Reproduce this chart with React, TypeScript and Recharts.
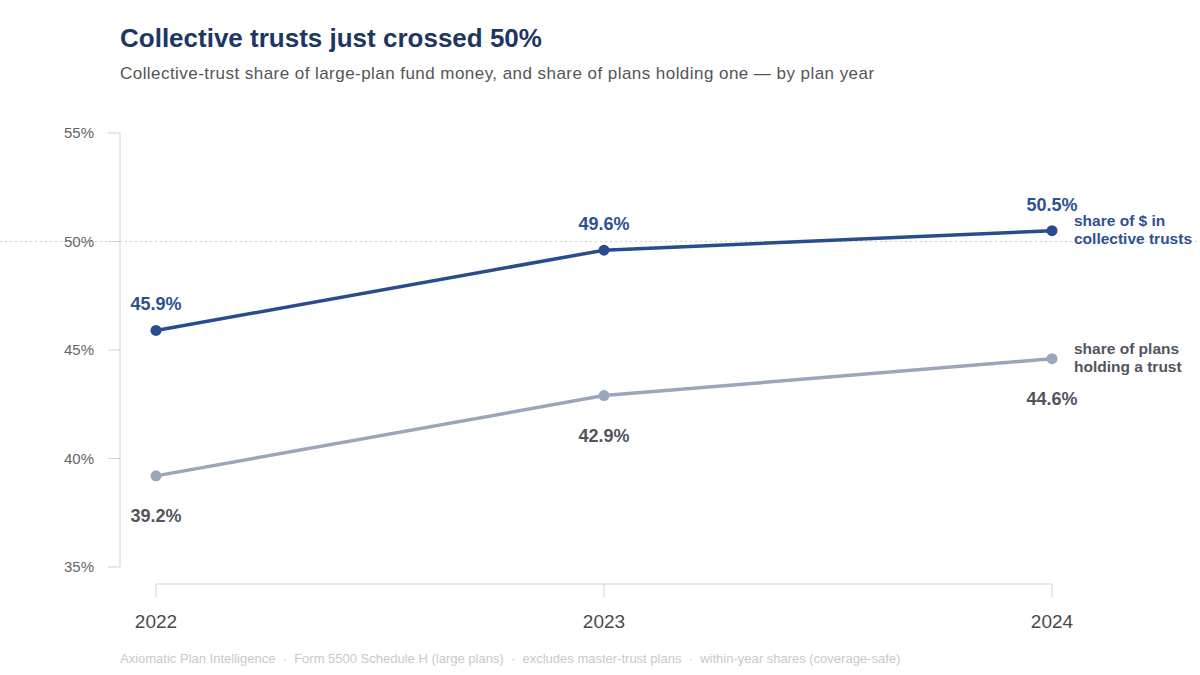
import React from 'react';
import { LineChart, Line, XAxis, YAxis, ReferenceLine, LabelList } from 'recharts';

// Plan years and the two shares (percent)
const YEARS = ['2022', '2023', '2024'];
const DOLLAR_SHARE = [45.9, 49.6, 50.5];
const PLAN_SHARE = [39.2, 42.9, 44.6];
const Y_TICKS = [35, 40, 45, 50, 55];
const Y_DOMAIN: [number, number] = [35, 55];
const DOLLAR_LABEL = ['share of $ in', 'collective trusts'];
const PLAN_LABEL = ['share of plans', 'holding a trust'];

const TITLE = 'Collective trusts just crossed 50%';
const SUBTITLE =
  'Collective-trust share of large-plan fund money, and share of plans holding one \u2014 by plan year';
const FOOTER =
  'Axiomatic Plan Intelligence  \u00b7  Form 5500 Schedule H (large plans)  \u00b7  excludes master-trust plans  \u00b7  within-year shares (coverage-safe)';

const data = YEARS.map((year, i) => ({
  year,
  dollars: DOLLAR_SHARE[i],
  plans: PLAN_SHARE[i],
}));

const W = 1200;
const H = 675;
const PAD_X = 36;
const PAD_BOTTOM = 17;
const FONT = '"Liberation Sans", Arial, Helvetica, sans-serif';

const BLUE = '#2b4c8c';
const BLUE_TEXT = '#2e5194';
const GRAY = '#9ba6bb';
const GRAY_TEXT = '#52555f';
const AXIS = '#d2d2d2';

const makeLabel =
  (color: string, above: boolean, endLines: string[]) =>
  (props: any) => {
    const { x, y, value, index } = props;
    const last = index === YEARS.length - 1;
    return (
      <g>
        <text
          x={x}
          y={above ? y - 20 : y + 46}
          textAnchor="middle"
          fill={color}
          fontFamily={FONT}
          fontWeight="bold"
          fontSize={18}
        >
          {`${Number(value).toFixed(1)}%`}
        </text>
        {last && (
          <text x={x + 22} y={y - 5} fill={color} fontFamily={FONT} fontWeight="bold" fontSize={15.5}>
            <tspan x={x + 22} dy={0}>{endLines[0]}</tspan>
            <tspan x={x + 22} dy={18}>{endLines[1]}</tspan>
          </text>
        )}
      </g>
    );
  };

export default function App() {
  return (
    <div style={{ position: 'absolute', left: 0, top: 0, width: W, height: H, background: '#fff' }}>
      <LineChart
        width={W}
        height={H}
        data={data}
        margin={{ top: 133, right: 112, bottom: 51, left: 60 }}
        style={{ position: 'absolute', left: 0, top: 0 }}
      >
        <XAxis
          dataKey="year"
          padding={{ left: PAD_X, right: PAD_X }}
          axisLine={false}
          tickLine={{ stroke: AXIS }}
          tickSize={13}
          tickMargin={18}
          height={40}
          tick={{ fill: '#4a4a4a', fontSize: 19, fontFamily: FONT }}
        />
        <YAxis
          type="number"
          domain={Y_DOMAIN}
          ticks={Y_TICKS}
          padding={{ top: 0, bottom: PAD_BOTTOM }}
          axisLine={false}
          tickLine={{ stroke: AXIS }}
          tickSize={12}
          tickMargin={14}
          width={60}
          tick={{ fill: '#666', fontSize: 15, fontFamily: FONT }}
          tickFormatter={(v: number) => `${v}%`}
        />
        {/* dotted 50% line running across the full width */}
        <ReferenceLine
          y={50}
          ifOverflow="visible"
          shape={(p: any) => (
            <line x1={0} x2={W} y1={p.y1} y2={p.y1} stroke="#cfcfcf" strokeDasharray="2 3" />
          )}
        />
        {/* vertical axis line spanning the value range */}
        <ReferenceLine
          segment={[
            { x: YEARS[0], y: Y_DOMAIN[0] },
            { x: YEARS[0], y: Y_DOMAIN[1] },
          ]}
          ifOverflow="visible"
          shape={(p: any) => (
            <line x1={p.x1 - PAD_X} x2={p.x1 - PAD_X} y1={p.y1} y2={p.y2} stroke={AXIS} strokeWidth={1} />
          )}
        />
        {/* horizontal axis line spanning the first to last year */}
        <ReferenceLine
          segment={[
            { x: YEARS[0], y: Y_DOMAIN[0] },
            { x: YEARS[YEARS.length - 1], y: Y_DOMAIN[0] },
          ]}
          ifOverflow="visible"
          shape={(p: any) => (
            <line
              x1={p.x1}
              x2={p.x2}
              y1={p.y1 + PAD_BOTTOM}
              y2={p.y2 + PAD_BOTTOM}
              stroke={AXIS}
              strokeWidth={1}
            />
          )}
        />
        <Line
          dataKey="plans"
          stroke={GRAY}
          strokeWidth={3.5}
          dot={{ r: 5.5, fill: GRAY, stroke: GRAY, strokeWidth: 0 }}
          activeDot={false}
          isAnimationActive={false}
        >
          <LabelList dataKey="plans" content={makeLabel(GRAY_TEXT, false, PLAN_LABEL)} />
        </Line>
        <Line
          dataKey="dollars"
          stroke={BLUE}
          strokeWidth={3.5}
          dot={{ r: 5.5, fill: BLUE, stroke: BLUE, strokeWidth: 0 }}
          activeDot={false}
          isAnimationActive={false}
        >
          <LabelList dataKey="dollars" content={makeLabel(BLUE_TEXT, true, DOLLAR_LABEL)} />
        </Line>
      </LineChart>
      <svg
        width={W}
        height={H}
        style={{ position: 'absolute', left: 0, top: 0, pointerEvents: 'none' }}
      >
        <text x={120} y={47} fill="#1d3663" fontFamily={FONT} fontWeight="bold" fontSize={26}>
          {TITLE}
        </text>
        <text x={120} y={79} fill="#555" fontFamily={FONT} fontSize={17} letterSpacing={0.45}>
          {SUBTITLE}
        </text>
        <text x={120} y={663} fill="#c9c9c9" fontFamily={FONT} fontSize={13} style={{ whiteSpace: 'pre' }}>
          {FOOTER}
        </text>
      </svg>
    </div>
  );
}
